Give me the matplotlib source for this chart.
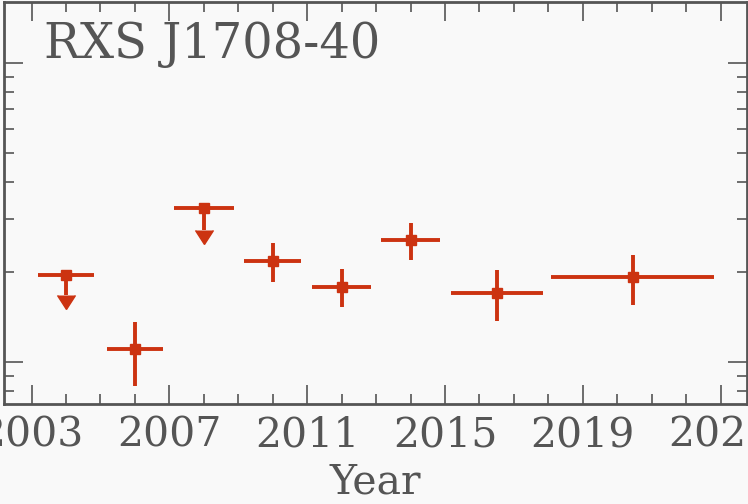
"""
Light curve of RXS J1708-40: flux per epoch against year (log y axis).
"""

import matplotlib
matplotlib.use("Agg")
import matplotlib.pyplot as plt
from matplotlib.ticker import FixedLocator, MultipleLocator, LogLocator, NullFormatter

# Epoch centres and half-widths (years)
years = [2004.0, 2006.0, 2008.0, 2010.0, 2012.0, 2014.0, 2016.5, 2020.45]
year_err = [0.8, 0.82, 0.87, 0.82, 0.85, 0.85, 1.33, 2.37]

# Flux values (arbitrary units, log scale) and errors
flux = [1.96, 1.105, 3.27, 2.18, 1.79, 2.56, 1.71, 1.92]
flux_lo = [0.28, 0.27, 0.50, 0.33, 0.26, 0.365, 0.34, 0.36]
flux_hi = [0.0, 0.26, 0.0, 0.32, 0.26, 0.365, 0.325, 0.36]
upper_limit = [True, False, True, False, False, False, False, False]

year_ticks = [2003, 2007, 2011, 2015, 2019, 2023]
label_text = "RXS J1708-40"
red = "#cc3311"
grey = "#555555"
bg = "#f9f9f9"

plt.rcParams["font.family"] = "DejaVu Serif"

fig = plt.figure(figsize=(7.48, 5.04), dpi=100, facecolor=bg)
ax = fig.add_axes([4 / 748, 100 / 504, 742.5 / 748, 402.3 / 504], facecolor=bg)

# Detections
det = [i for i, u in enumerate(upper_limit) if not u]
ax.errorbar([years[i] for i in det], [flux[i] for i in det],
            xerr=[year_err[i] for i in det],
            yerr=[[flux_lo[i] for i in det], [flux_hi[i] for i in det]],
            fmt="s", color=red, ms=7, elinewidth=2.8, capsize=0)

# Upper limits: horizontal bar, then downward arrow
ul = [i for i, u in enumerate(upper_limit) if u]
ax.errorbar([years[i] for i in ul], [flux[i] for i in ul],
            xerr=[year_err[i] for i in ul],
            fmt="s", color=red, ms=7, elinewidth=2.8, capsize=0)
ax.errorbar([years[i] for i in ul], [flux[i] for i in ul],
            yerr=[flux_lo[i] for i in ul], uplims=True,
            fmt="none", color=red, elinewidth=2.8, capsize=6.5)

ax.set_yscale("log")
ax.set_ylim(0.726, 16.0)
ax.set_xlim(2002.2, 2023.75)

ax.xaxis.set_major_locator(FixedLocator(year_ticks))
ax.xaxis.set_minor_locator(MultipleLocator(1))
ax.yaxis.set_major_locator(LogLocator(base=10))
ax.yaxis.set_minor_locator(LogLocator(base=10, subs=range(2, 10)))
ax.yaxis.set_minor_formatter(NullFormatter())

ax.tick_params(which="both", direction="in", top=True, right=True,
               color=grey, labelcolor=grey, labelsize=29.5, pad=8)
ax.tick_params(axis="y", labelleft=False)
ax.tick_params(which="major", length=14, width=1.2)
ax.tick_params(which="minor", length=7, width=1.2)
for s in ax.spines.values():
    s.set_color(grey)
    s.set_linewidth(2)

ax.set_xlabel("Year", fontsize=29.5, color=grey, labelpad=5)

ax.text(0.054, 0.859, label_text, transform=ax.transAxes, fontsize=34.5,
        color=grey, ha="left", va="baseline")

fig.savefig("out.png", dpi=100, facecolor=bg)
